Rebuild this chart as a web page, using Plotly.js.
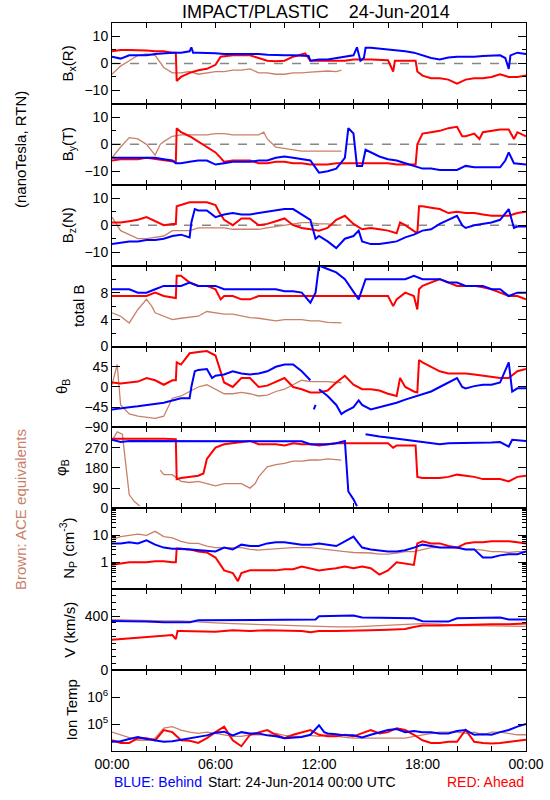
<!DOCTYPE html>
<html><head><meta charset="utf-8">
<script src="https://cdn.plot.ly/plotly-3.0.1.min.js"></script>
<style>body{margin:0;background:#fff}#chart{width:550px;height:800px}</style>
</head><body><div id="chart"></div>
<script>
// ---- time labels ----
const xTickVals = [0,6,12,18,24];
const xTickText = ["00:00","06:00","12:00","18:00","00:00"];

// ---- panel labels ----
const panelTitles = ["B<sub>x</sub>(R)","B<sub>y</sub>(T)","B<sub>z</sub>(N)","total B","θ<sub>B</sub>","φ<sub>B</sub>","N<sub>P</sub> (cm<sup>-3</sup>)","V (km/s)","Ion Temp"];

// ---- Bx (hour, nT) ----
const bxBehind = [[0,2.5],[0.5,1.8],[1,3],[1.5,3],[2,3],[2.5,3.5],[3,3.8],[3.5,4],[4,4],[4.5,4.5],[4.6,6],[4.7,4],[5,4],[5.5,4],[6,3.8],[6.5,3.5],[7,3.5],[7.5,3.5],[8,3.5],[8.5,3.5],[9,3.2],[9.5,3],[10,3],[10.5,3],[11,3],[11.4,2.8],[11.5,1],[12,1.5],[12.5,1.5],[13,2],[13.5,2.5],[14,3],[14.2,6],[14.4,1],[14.6,2],[14.7,5.8],[15,5.8],[15.5,5.5],[16,5.2],[16.5,5],[17,4.5],[17.5,4],[18,3],[18.5,2],[19,1.5],[19.5,2.2],[20,2.5],[20.5,2.5],[21,2.5],[21.5,2.8],[22,3],[22.5,3],[22.8,2],[23,-2],[23.1,3],[23.5,4],[24,3.5]];
const bxAhead = [[0,4.5],[0.5,5],[1,5],[1.5,5],[2,4.8],[2.5,4.5],[3,4.5],[3.5,4],[3.7,4],[3.75,-6.5],[4,-5],[4.5,-3.5],[5,-2.5],[5.5,-2],[6,-0.5],[6.3,2.5],[7,3],[7.5,3],[8,3],[8.5,2],[9,1],[9.5,0.8],[10,1],[10.5,2.5],[11.2,3.7],[11.5,1],[12,1],[12.5,1],[13,1],[13.5,1],[14,1.5],[15,1.5],[16,1.2],[16.3,-3],[16.4,1],[17,1],[17.6,1],[17.7,-3],[18,-4.5],[18.5,-5.5],[19,-5.5],[19.5,-6],[20,-7.5],[20.5,-6],[21,-5.5],[21.5,-5.5],[22,-5],[22.5,-4],[23,-5],[23.5,-5],[24,-4.5]];
const bxAce = [[0,-4],[0.5,-1],[1,1],[1.5,3],[2,3.5],[2.5,3],[3,-1.5],[3.5,-3.5],[4,-3.5],[4.5,-3],[5,-4],[5.5,-3.5],[6,-3],[6.5,-3],[7,-2.5],[7.5,-2.5],[8,-2],[8.5,-3.5],[9,-3.5],[9.5,-4],[10,-4],[10.5,-3.5],[11,-3.5],[11.5,-3.2],[12,-3],[12.5,-2.8],[13,-3],[13.3,-2.5]];

// ---- By ----
const byBehind = [[0,-5],[0.5,-5],[1,-5],[1.5,-5],[2,-5],[2.5,-5],[3,-5.5],[3.5,-6],[3.7,-7],[4,-7],[4.5,-6.5],[5,-6],[5.5,-6],[6,-7.5],[6.5,-7],[7,-6.5],[7.5,-6.5],[8,-6.5],[8.5,-6],[9,-6],[9.5,-5],[10,-4.5],[10.5,-5],[11,-5.5],[11.5,-6],[12,-10.5],[12.5,-10],[13,-9],[13.5,-5],[13.7,6],[14,4],[14.2,-8],[14.5,-8],[14.7,-2],[15,-3],[15.5,-4.5],[16,-5.5],[16.5,-6],[17,-7],[17.5,-8],[18,-9],[18.5,-9],[19,-9.5],[19.5,-9.5],[20,-9.5],[20.5,-8],[21,-8.5],[21.5,-8.5],[22,-8.5],[22.5,-8.5],[22.8,-6],[23,-3],[23.3,-7],[24,-7.5]];
const byAhead = [[0,-6],[0.5,-5.5],[1,-5.5],[1.5,-5.5],[2,-5],[2.5,-5.5],[3,-6],[3.5,-6.5],[3.7,-6.5],[3.75,6],[4,4.5],[4.5,3],[5,1],[5.5,-1],[6,-3],[6.3,-5],[6.5,-6.5],[7,-6],[7.5,-6],[8,-6],[8.5,-7],[9,-7],[9.5,-6.5],[10,-6.5],[10.5,-7],[11,-7],[11.5,-7.5],[12,-7.5],[12.5,-7.5],[13,-7],[14,-7],[15,-7],[16,-7],[16.5,-7.5],[17,-7.5],[17.6,-7.5],[17.7,0],[18,4],[18.5,4.5],[19,5],[19.5,6],[20,6.5],[20.3,3],[20.5,3],[21,4],[21.3,2],[21.5,4.5],[22,5],[22.5,5.5],[23,5.5],[23.3,2],[23.5,4.5],[24,3]];
const byAce = [[0,-5],[0.5,-1],[1,2.5],[1.5,2],[2,0],[2.5,-4],[2.8,0],[3,1],[3.5,3],[4,3.5],[4.5,3.5],[5,3.5],[5.5,3.5],[6,4],[6.5,4],[7,3.5],[7.5,3.5],[8,3.5],[8.5,3.5],[8.8,4.5],[9,2],[9.5,-1],[10,-1.5],[10.5,-2],[11,-2.5],[11.5,-2.5],[12,-2.5],[12.5,-2.5],[13,-2.5],[13.3,-2.5]];

// ---- Bz ----
const bzBehind = [[0,-7],[0.5,-6.5],[1,-6],[1.5,-6],[2,-5.5],[2.5,-5.5],[3,-5],[3.5,-4],[4,-3.5],[4.5,-4.5],[4.6,1],[4.8,6],[5,5.5],[5.5,5.5],[6,3],[6.5,4],[7,4.5],[7.5,4],[8,4],[8.5,4.5],[9,5],[9.5,5.5],[10,6],[10.5,6],[11,4],[11.5,2],[11.8,-5],[12,-4],[12.5,-6],[13,-8.5],[13.5,-5],[14,-4],[14.3,-2],[14.5,-6],[15,-7],[15.5,-7],[16,-6.5],[16.5,-6],[17,-4.5],[17.5,-3.5],[18,-2],[18.5,-1.5],[19,0.5],[19.5,2],[20,3.5],[20.3,0],[20.5,-1],[21,0],[21.5,0.5],[22,1],[22.5,2],[23,6],[23.3,-1],[23.5,-0.5],[24,-0.5]];
const bzAhead = [[0,1],[0.5,1],[1,1.5],[1.5,2],[2,3],[2.5,1.5],[3,0],[3.5,0.5],[3.7,0.5],[3.75,7],[4,7.5],[4.5,8.5],[5,8.5],[5.5,8.5],[6,7.5],[6.2,5],[6.5,2],[7,0],[7.5,2.5],[8,2.5],[8.5,0],[9,0.5],[9.5,1.5],[10,2.5],[10.5,0],[11,-1],[11.5,-1.5],[12,-2],[12.5,-1],[13,2],[13.5,3.5],[14,0.5],[14.5,-1.5],[15,-1],[15.5,-1.5],[16,-2],[16.5,-3],[16.7,1],[17,0],[17.5,-2],[17.7,-3],[17.8,7],[18,7],[18.5,6.5],[19,6],[19.5,4.5],[20,5],[20.5,4.5],[21,4.5],[21.5,4],[22,3.5],[22.5,3.5],[23,3.5],[23.5,4.5],[24,5]];
const bzAce = [[0,3],[0.5,-2],[1,-3.5],[1.5,-5],[2,-5],[2.5,-4.5],[3,-4],[3.5,-2],[4,-2],[4.5,-2],[5,-1],[5.5,-1],[6,-1],[6.5,-1],[7,-1.5],[7.5,-1.5],[8,-1.5],[8.5,-1.5],[9,-1],[9.5,-0.5],[10,0],[10.5,0.5],[11,1],[11.5,1],[12,0.5],[12.5,0.5],[13,0],[13.3,0]];

// ---- total B ----
const btBehind = [[0,8.5],[0.5,8.5],[1,8.5],[1.5,8],[2,8],[2.5,8.5],[3,9],[3.5,9],[4,9],[4.5,9.5],[5,9],[5.5,9],[6,9],[6.5,8.5],[7,8.5],[7.5,8.5],[8,8.5],[8.5,8.5],[9,8.5],[9.5,8.5],[10,8.2],[10.5,8.2],[11,8],[11.5,6.5],[11.8,8],[12,12],[12.5,11.5],[13,11],[13.5,10],[14,8],[14.3,7],[14.7,10],[15,10],[15.5,10],[16,10],[16.5,10],[17,10],[17.5,10.5],[18,10],[18.5,10],[19,10],[19.5,9.5],[20,9.5],[20.5,9],[21,9],[21.5,9],[22,8.5],[22.5,8.5],[23,7.5],[23.5,8],[24,8]];
const btAhead = [[0,7.5],[1,7.5],[2,7.5],[2.5,8],[3,7.5],[3.7,7.2],[3.75,10.5],[4,10.5],[4.5,9.5],[5,9],[5.5,9],[6,8.5],[6.3,7],[6.5,7.5],[7,7.5],[7.5,7],[8,7],[8.5,7.5],[9,7.5],[10,7.5],[11,7.5],[12,7.5],[13,7.5],[14,7.5],[15,7.5],[16,7.5],[16.3,6],[16.5,7],[17,8],[17.5,7.5],[17.7,5.5],[17.8,8.5],[18,9],[18.5,9.5],[19,10],[19.5,9.5],[20,9],[20.5,9],[21,9],[21.5,8.8],[22,8.5],[22.5,8],[23,7.5],[23.5,7.5],[24,7]];
const btAce = [[0,5],[0.5,4.5],[1,3.5],[1.5,5.5],[2,7],[2.3,6],[2.5,5],[3,4.5],[3.5,4],[4,4.2],[4.5,4.3],[5,4.5],[5.5,5.2],[6,5],[6.5,4.8],[7,4.8],[7.5,4.5],[8,4.3],[8.5,4.2],[9,4],[9.5,3.8],[10,4],[10.5,4],[11,4],[11.5,3.8],[12,3.8],[12.5,3.6],[13,3.5],[13.3,3.5]];

// ---- theta B (deg) ----
const thBehind = [[0,-50],[0.5,-47],[1,-45],[1.5,-43],[2,-40],[2.5,-38],[3,-35],[3.5,-30],[4,-25],[4.5,-25],[4.6,0],[4.8,35],[5,38],[5.5,40],[5.8,20],[6,25],[6.5,28],[7,35],[7.5,30],[8,28],[8.5,30],[9,35],[9.5,45],[10,50],[10.5,50],[11,35],[11.5,15],[11.6,null],[11.7,-50],[11.8,-40],[11.9,null],[12,-5],[12.5,-20],[13,-40],[13.3,-60],[13.5,-55],[14,-45],[14.3,-30],[14.5,-40],[15,-50],[15.5,-45],[16,-40],[16.5,-35],[17,-28],[17.5,-22],[18,-15],[18.5,-10],[19,0],[19.5,10],[20,20],[20.3,0],[20.5,-3],[21,2],[21.5,5],[22,5],[22.5,10],[23,55],[23.2,-10],[23.5,-3],[24,-3]];
const thAhead = [[0,10],[0.5,8],[1,10],[1.5,12],[2,20],[2.5,15],[3,5],[3.5,15],[3.7,15],[3.75,55],[4,50],[4.5,75],[5,78],[5.5,80],[6,70],[6.2,45],[6.5,10],[7,0],[7.5,20],[8,20],[8.5,0],[9,3],[9.5,12],[10,20],[10.5,0],[11,-5],[11.5,-12],[12,-12],[12.5,-8],[13,10],[13.5,25],[14,5],[14.5,-5],[15,-5],[15.5,-8],[16,-15],[16.5,-20],[16.7,20],[17,0],[17.5,-10],[17.7,-12],[17.8,60],[18,55],[18.5,45],[19,35],[19.5,30],[20,30],[20.5,30],[21,28],[21.5,25],[22,22],[22.5,20],[23,20],[23.5,35],[24,40]];
const thAce = [[0,5],[0.3,50],[0.5,-40],[1,-60],[1.5,-65],[2,-68],[2.5,-70],[3,-65],[3.5,-25],[4,-20],[4.5,-10],[5,0],[5.5,5],[6,-5],[6.5,-15],[7,-15],[7.5,-12],[8,-15],[8.5,-20],[9,-18],[9.5,-10],[10,-5],[10.5,5],[11,15],[11.5,12],[12,12],[12.5,12],[13,10],[13.3,10]];

// ---- phi B (deg) ----
const phBehind = [[0,305],[0.5,295],[1,300],[2,300],[3,300],[4,300],[5,300],[6,300],[7,300],[8,300],[9,300],[10,300],[11,298],[11.5,285],[12,285],[12.5,285],[13,290],[13.5,300],[13.7,75],[14,40],[14.2,10],[14.25,null],[14.7,330],[15,325],[15.5,320],[16,315],[16.5,310],[17,305],[17.5,300],[18,295],[18.5,290],[19,285],[19.5,290],[20,290],[21,290],[22,293],[22.5,295],[23,275],[23.2,305],[23.5,303],[24,300]];
const phAhead = [[0,310],[1,310],[2,312],[3,310],[3.7,308],[3.75,130],[4,135],[4.5,140],[5,145],[5.3,155],[5.5,220],[5.8,250],[6,270],[6.5,285],[7,290],[7.5,295],[8,300],[8.5,285],[9,285],[9.5,285],[10,280],[10.5,290],[11,285],[11.5,285],[12,280],[12.5,285],[13,290],[14,290],[15,290],[16,290],[16.3,270],[16.5,280],[17,280],[17.6,280],[17.7,140],[18,135],[18.5,135],[19,135],[19.5,140],[20,150],[20.5,145],[21,140],[21.5,130],[22,130],[22.5,130],[23,120],[23.5,140],[24,145]];
const phAce = [[0,300],[0.3,340],[0.6,330],[0.8,200],[1,60],[1.3,30],[1.6,10],[1.7,null],[2.8,170],[3,150],[3.5,150],[4,120],[4.5,115],[5,120],[5.5,110],[6,100],[6.5,110],[7,110],[7.5,110],[8,90],[8.3,110],[8.5,140],[9,185],[9.5,195],[10,200],[10.5,210],[11,210],[11.5,215],[12,215],[12.5,220],[13,215],[13.3,215]];

// ---- proton density (cm^-3) ----
const npBehind = [[0,5],[0.5,5],[1,5.5],[1.5,5],[2,6.5],[2.5,4.5],[3,3.5],[3.5,3.2],[4,3.2],[4.5,3],[5,2.8],[5.5,2.8],[6,2.5],[6.5,3.5],[7,3],[7.5,4.5],[8,4],[8.5,4],[9,5],[9.5,5.5],[10,5.5],[10.5,5],[11,4.5],[11.5,4.5],[12,5],[12.5,4.5],[13,4],[13.5,6],[14,9],[14.3,5],[14.5,3.5],[15,3],[15.5,2.8],[16,2.5],[16.5,2.5],[17,2.8],[17.5,3.5],[18,4.5],[18.5,4],[19,3.5],[19.5,3.5],[20,3.5],[20.5,3],[21,3],[21.5,1.5],[22,1.5],[22.5,1.8],[23,2],[23.5,2],[24,2.5]];
const npAhead = [[0,0.8],[0.5,0.9],[1,1],[1.5,1],[2,1],[2.5,1.1],[3,1.1],[3.5,1],[3.7,1],[3.75,3.2],[4,3.2],[4.5,3],[5,2.5],[5.5,2.3],[6,1.5],[6.5,0.5],[7,0.4],[7.3,0.2],[7.5,0.4],[8,0.5],[8.5,0.5],[9,0.5],[9.5,0.5],[10,0.55],[10.5,0.55],[11,0.7],[11.5,0.6],[12,0.5],[12.5,0.55],[13,0.6],[13.5,0.7],[14,0.6],[14.5,0.7],[15,0.6],[15.5,0.35],[16,0.5],[16.5,1],[17,0.9],[17.5,0.8],[17.7,5],[18,6],[18.5,5],[19,5],[19.5,4],[20,3.5],[20.5,5],[21,5.5],[21.5,5.5],[22,6],[22.5,6],[23,6],[23.5,5.5],[24,5]];
const npAce = [[0,7],[0.5,9],[1,10],[1.5,11],[2,10],[2.5,14],[3,9],[3.5,8],[4,6],[4.5,5],[5,5],[5.5,4],[6,3.5],[6.5,3.5],[7,3.5],[7.5,3.5],[8,3],[8.5,2.8],[9,3],[9.5,3.2],[10,3.5],[10.5,3.5],[11,3.5],[11.5,3.5],[12,3.2],[12.5,3],[13,2.8],[13.5,2.5],[14,2.3],[14.5,2.3],[15,2.2],[15.5,2],[16,2],[16.5,2.2],[17,2.5],[17.5,2.5],[18,3],[18.5,3.5],[19,3.5],[19.5,3.5],[20,3.5],[20.5,3],[21,3],[21.5,2.8],[22,2.5],[22.5,2.5],[23,2.3],[23.5,2.5],[24,2.5]];

// ---- bulk speed (km/s) ----
const vBehind = [[0,365],[1,365],[2,360],[3,355],[4,355],[4.5,355],[5,370],[6,370],[7,370],[8,372],[9,372],[10,372],[11,375],[11.8,375],[12,400],[13,400],[14,405],[14.5,390],[15,390],[16,390],[17,385],[17.5,385],[18,362],[19,360],[19.5,360],[20,385],[21,385],[22,385],[22.5,390],[23,375],[24,375]];
const vAhead = [[0,225],[1,235],[2,240],[3,250],[3.5,260],[3.7,230],[3.8,290],[4,290],[5,290],[6,285],[7,295],[8,290],[9,295],[10,295],[11,290],[11.5,280],[12,290],[13,290],[14,290],[15,295],[16,300],[17,305],[17.5,320],[18,330],[19,330],[20,335],[21,335],[22,340],[23,340],[24,345]];
const vAce = [[0,375],[1,370],[2,370],[3,365],[4,365],[5,355],[6,350],[7,345],[8,340],[9,340],[10,335],[11,330],[12,325],[13,320],[14,320],[15,325],[16,330],[17,340],[18,345],[19,340],[20,330],[21,330],[22,330],[23,330],[24,325]];

// ---- ion temperature (K) ----
const tBehind = [[0,2.2e4],[0.5,2.3e4],[1,2.8e4],[1.5,3.3e4],[2,2.8e4],[2.5,2.5e4],[3,2.2e4],[3.5,2.3e4],[4,2.6e4],[4.5,3e4],[5,3.5e4],[5.5,3.8e4],[6,4.8e4],[6.5,5.2e4],[7,3.8e4],[7.5,5e4],[8,4.5e4],[8.5,4.5e4],[9,3.8e4],[9.5,3.5e4],[10,3e4],[10.5,3.2e4],[11,3.3e4],[11.5,4e4],[12,9e4],[12.3,5e4],[12.5,4.5e4],[13,4.2e4],[13.5,3.8e4],[14,3.8e4],[14.5,3.2e4],[15,4e4],[15.5,5e4],[16,6e4],[16.5,6.5e4],[17,5e4],[17.5,5.5e4],[18,5e4],[18.5,5e4],[19,4.5e4],[19.5,4.5e4],[20,5.5e4],[20.5,6e4],[21,4e4],[21.5,4.2e4],[22,4e4],[22.5,5e4],[23,6e4],[23.5,8e4],[24,1e5]];
const tAhead = [[0,2.5e4],[0.5,2e4],[1,2e4],[1.5,3e4],[2,3e4],[2.5,2.5e4],[3,6e4],[3.5,5e4],[4,2.5e4],[4.5,2.4e4],[5,2e4],[5.5,3e4],[6,5e4],[6.5,8e4],[7,2.5e4],[7.5,1.5e4],[8,4e4],[8.5,5e4],[9,6e4],[9.5,4e4],[10,3e4],[10.5,4e4],[11,5e4],[11.5,6e4],[12,4e4],[12.5,3.5e4],[13,3.5e4],[13.5,4e4],[14,3.5e4],[14.5,4.5e4],[15,6e4],[15.5,4.5e4],[16,5e4],[16.5,7e4],[17,6e4],[17.5,4e4],[18,2.5e4],[18.5,2e4],[19,2e4],[19.5,2.2e4],[20,2.2e4],[20.5,6e4],[21,2.2e4],[21.5,2e4],[22,1.9e4],[22.5,2e4],[23,2.2e4],[23.5,2.4e4],[24,2.6e4]];
const tAce = [[0,5e4],[0.5,4e4],[1,3e4],[1.5,2.5e4],[2,2.5e4],[2.5,3e4],[3,7e4],[3.5,8e4],[4,6e4],[4.5,5e4],[5,4.5e4],[5.5,5e4],[6,4.5e4],[6.5,4e4],[7,3.5e4],[7.5,3.5e4],[8,4e4],[8.5,4e4],[9,4e4],[9.5,4.5e4],[10,3.8e4],[10.5,3.5e4],[11,3.5e4],[11.5,3.8e4],[12,3.5e4],[12.5,4e4],[13,3.5e4],[13.5,3.2e4],[14,3e4],[14.5,3e4],[15,3e4],[15.5,3e4],[16,3e4],[16.5,3e4],[17,3e4],[17.5,3.5e4],[18,4e4],[18.5,4.5e4],[19,5e4],[19.5,5e4],[20,5e4],[20.5,4.5e4],[21,5e4],[21.5,4e4],[22,5e4],[22.5,5e4],[23,4.5e4],[23.5,4e4],[24,4e4]];

// ---- y-axis tick definitions ----
const yTickVals = [[-10,0,10],[-10,0,10],[-10,0,10],[0,4,8],[-90,-45,0,45],[0,90,180,270],[1,10],[0,400],[1e5,1e6]];
const yTickText = [["−10","0","10"],["−10","0","10"],["−10","0","10"],["0","4","8"],["−90","−45","0","45"],["0","90","180","270"],["1","10"],["0","400"],["10<sup>5</sup>","10<sup>6</sup>"]];

const COL_BEHIND = "#0000ff", COL_AHEAD = "#ff0000", COL_ACE = "#c98068";
const panels = [
  {ace:bxAce, ahead:bxAhead, behind:bxBehind, range:[-15,15], type:"linear", minor:5, zero:true},
  {ace:byAce, ahead:byAhead, behind:byBehind, range:[-15,15], type:"linear", minor:5, zero:true},
  {ace:bzAce, ahead:bzAhead, behind:bzBehind, range:[-15,15], type:"linear", minor:5, zero:true},
  {ace:btAce, ahead:btAhead, behind:btBehind, range:[0,12], type:"linear", minor:2},
  {ace:thAce, ahead:thAhead, behind:thBehind, range:[-90,90], type:"linear", minor:null},
  {ace:phAce, ahead:phAhead, behind:phBehind, range:[0,360], type:"linear", minor:null},
  {ace:npAce, ahead:npAhead, behind:npBehind, range:[-1,2], type:"log", minor:"D1"},
  {ace:vAce, ahead:vAhead, behind:vBehind, range:[0,600], type:"linear", minor:50},
  {ace:tAce, ahead:tAhead, behind:tBehind, range:[4,7], type:"log", minor:null}
];
const titleX = [68,68,68,78,62,62,68,70,72];

const N = panels.length;
const L = 112, W = 414;
const traces = [], layout = {
  width:550, height:800, showlegend:false,
  paper_bgcolor:"#fff", plot_bgcolor:"#fff",
  margin:{l:112, r:24, t:23, b:49},
  font:{family:"Liberation Sans, Arial, sans-serif", size:14, color:"#000"},
  title:{text:"IMPACT/PLASTIC\u00a0\u00a0\u00a0\u00a024-Jun-2014", x:316/550, xanchor:"center", y:0.985, yanchor:"middle", font:{size:18, color:"#000"}},
  shapes:[], annotations:[]
};

function mk(pairs, color, width, i){
  const ax = i === 0 ? "" : String(i+1);
  return {x:pairs.map(p=>p[0]), y:pairs.map(p=>p[1]), type:"scatter", mode:"lines",
    line:{color:color, width:width}, xaxis:"x"+ax, yaxis:"y"+ax, hoverinfo:"skip", connectgaps:false};
}

panels.forEach((p,i)=>{
  const ax = i === 0 ? "" : String(i+1);
  const top = 1 - i/N, bot = 1 - (i+1)/N;
  traces.push(mk(p.ace, COL_ACE, 1.3, i));
  traces.push(mk(p.ahead, COL_AHEAD, 2, i));
  traces.push(mk(p.behind, COL_BEHIND, 2, i));
  const xa = {domain:[0,1], range:[0,24], anchor:"y"+ax, showgrid:false, zeroline:false,
    showline:true, linecolor:"#000", linewidth:1, mirror:"ticks", ticks:"inside", ticklen:5,
    tickcolor:"#000", tickvals:xTickVals, ticktext:xTickText, showticklabels:(i===N-1),
    minor:{ticks:"inside", ticklen:5, tickcolor:"#000", dtick:2, showgrid:false},
    tickfont:{size:14}};
  if(i>0) xa.matches = "x";
  layout["xaxis"+ax] = xa;
  const ya = {domain:[bot,top], range:p.range, type:p.type, anchor:"x"+ax, showgrid:false, zeroline:false,
    showline:true, linecolor:"#000", linewidth:1, mirror:"ticks", ticks:"inside", ticklen:8,
    tickcolor:"#000", tickvals:yTickVals[i], ticktext:yTickText[i], tickfont:{size:14}, fixedrange:true};
  if(p.minor !== null) ya.minor = {ticks:"inside", ticklen:4, tickcolor:"#000", dtick:p.minor, showgrid:false};
  layout["yaxis"+ax] = ya;
  if(p.zero){
    layout.shapes.push({type:"line", xref:"x"+ax, yref:"y"+ax, x0:0, x1:24, y0:0, y1:0,
      line:{color:"#888", width:1.5, dash:"dash"}, layer:"below"});
  }
  layout.annotations.push({text:panelTitles[i], xref:"paper", yref:"paper",
    x:(titleX[i]-L)/W, y:(top+bot)/2, xanchor:"center", yanchor:"middle", textangle:-90,
    showarrow:false, font:{size:15, color:"#000"}});
});

// side and bottom notes
layout.annotations.push({text:"(nanoTesla, RTN)", xref:"paper", yref:"paper", x:(20-L)/W, y:(751-150)/728,
  xanchor:"center", yanchor:"middle", textangle:-90, showarrow:false, font:{size:15, color:"#000"}});
layout.annotations.push({text:"Brown: ACE equivalents", xref:"paper", yref:"paper", x:(20-L)/W, y:(751-510)/728,
  xanchor:"center", yanchor:"middle", textangle:-90, showarrow:false, font:{size:15, color:COL_ACE}});
layout.annotations.push({text:"BLUE: Behind", xref:"paper", yref:"paper", x:0, y:(751-782)/728,
  xanchor:"left", yanchor:"middle", showarrow:false, font:{size:14, color:COL_BEHIND}});
layout.annotations.push({text:"Start: 24-Jun-2014 00:00 UTC", xref:"paper", yref:"paper", x:(302-L)/W, y:(751-782)/728,
  xanchor:"center", yanchor:"middle", showarrow:false, font:{size:14, color:"#000"}});
layout.annotations.push({text:"RED: Ahead", xref:"paper", yref:"paper", x:1, y:(751-782)/728,
  xanchor:"right", yanchor:"middle", showarrow:false, font:{size:14, color:COL_AHEAD}});

Plotly.newPlot("chart", traces, layout, {staticPlot:true, displayModeBar:false});
</script></body></html>
